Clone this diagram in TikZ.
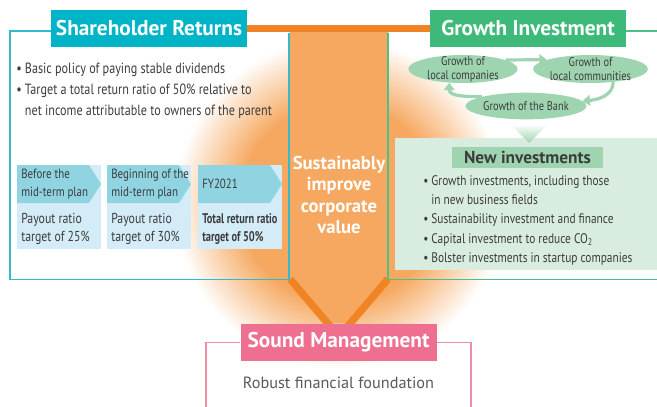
\documentclass[tikz,border=0pt]{standalone}
\usepackage{fontspec}
\setmainfont{PT Sans}
\newfontfamily\condfont[FakeStretch=0.82]{PT Sans}
\newfontfamily\narrowfont[FakeStretch=0.74]{PT Sans}
\usetikzlibrary{positioning,shapes.geometric,arrows.meta,calc}
\definecolor{shcyan}{HTML}{00B4C8}
\definecolor{shline}{HTML}{35BACD}
\definecolor{grgreen}{HTML}{3DB97A}
\definecolor{grline}{HTML}{4DC087}
\definecolor{cycgreen}{HTML}{9ED5B0}
\definecolor{panelgreen}{HTML}{D8EDDF}
\definecolor{stephd}{HTML}{8FD4E0}
\definecolor{stepbd}{HTML}{D4ECF8}
\definecolor{smpink}{HTML}{EF6F91}
\definecolor{smline}{HTML}{F28BA6}
\definecolor{bandorange}{HTML}{F6A860}
\definecolor{vorange}{HTML}{F08424}
\definecolor{textgray}{HTML}{3C3C3C}
\pgfdeclareradialshading{glow}{\pgfpoint{0bp}{0bp}}{color(0bp)=(bandorange); color(15bp)=(bandorange); color(25bp)=(white); color(50bp)=(white)}
\tikzset{
  title/.style={text=white, font=\bfseries\fontsize{16}{18}\selectfont, minimum width=147pt, minimum height=28pt, inner sep=0pt},
  list/.style={align=left, inner sep=0pt, text=textgray},
  stepfont/.style={align=left, inner sep=0pt, text=textgray, font=\condfont\fontsize{10}{13}\selectfont},
  cyc/.style={ellipse, fill=cycgreen, inner xsep=0pt, inner ysep=-4pt, align=center, text=textgray, font=\condfont\fontsize{9.5}{10.5}\selectfont},
  cycarrow/.style={-{Triangle[length=5.5pt,width=8pt]}, line width=2.4pt, draw=cycgreen},
}
\newcommand{\plainbody}{\condfont\fontsize{10.8}{13}\selectfont}
\newcommand{\boldbody}{\narrowfont\bfseries\fontsize{10.5}{13}\selectfont}

\begin{document}
\begin{tikzpicture}[x=0.75pt, y=-0.75pt]
\useasboundingbox (0,0) rectangle (657,407);

% glow and band
\shade[shading=glow] (339,203) circle (165);
\fill[bandorange] (290,31) -- (388,31) -- (388,280) -- (350,323) -- (327,323) -- (290,280) -- cycle;
\draw[vorange, line width=5.5pt] (290,279) -- (330,326);
\draw[vorange, line width=5.5pt] (388,279) -- (348,326);

% titles
\node[title, fill=shcyan] (shTitle) at (149,28.5) {Shareholder Returns};
\node[title, fill=grgreen] (grTitle) at (528,28.5) {Growth Investment};
\node[title, fill=smpink]  (smTitle) at (338.5,342.5) {Sound Management};

% frames
\draw[vorange, line width=5.5pt] (shTitle.east) -- (grTitle.west);
\draw[shline, line width=1.1pt] (shTitle.west |- 0,31) -- (10,31) -- (10,279.5) -- (289,279.5) -- (289,33);
\draw[grline, line width=1.1pt] (grTitle.east |- 0,31) -- (660,31);
\draw[grline, line width=1.1pt] (388,33) -- (388,279.5) -- (660,279.5);
\draw[smline, line width=1.1pt] (smTitle.west) -- (206,342.5) -- (206,410);
\draw[smline, line width=1.1pt] (smTitle.east) -- (471,342.5) -- (471,410);

% shareholder returns
\node[list, anchor=north west, font=\condfont\fontsize{11.1}{15.75}\selectfont] (shList) at (16,63)
  {\textbullet\ Basic policy of paying stable dividends\\
   \textbullet\ Target a total return ratio of 50\% relative to\\
   \hphantom{\textbullet\ }net income attributable to owners of the parent};

\foreach \n/\x/\hd/\bd/\bodyfont in {1/17/{Before the\\mid-term plan}/{Payout ratio\\target of 25\%}/\plainbody,
                                     2/107/{Beginning of the\\mid-term plan}/{Payout ratio\\target of 30\%}/\plainbody,
                                     3/198/{FY2021}/{Total return ratio\\target of 50\%}/\boldbody}{
  \fill[stepbd] (\x,165) rectangle ++(84,84);
  \fill[stephd] (\x,165) -- ++(72,0) -- ++(12,19) -- ++(-12,19) -- ++(-72,0) -- cycle;
  \node[stepfont, anchor=west] (head\n) at (\x+4,184) {\hd};
  \node[stepfont, anchor=west, font=\bodyfont] (body\n) at (\x+4,229) {\bd};
}

% corporate value
\node[align=center, text=white, font=\bfseries\fontsize{14}{16}\selectfont] (value) at (339,195)
  {Sustainably\\improve\\corporate\\value};

% growth cycle
\node[cyc, minimum width=82pt, minimum height=21pt] (gc) at (463,69) {Growth of\\local companies};
\node[cyc, minimum width=82pt, minimum height=21pt] (gm) at (590.5,69) {Growth of\\local communities};
\node[cyc, minimum width=81pt, minimum height=20pt] (gb) at (526,106) {Growth of the Bank};
\draw[cycarrow] (gc.12) -- (gm.168);
\draw[cycarrow] (gm.-30) to[out=-90, in=5] (gb.5);
\draw[cycarrow] (gb.168) to[out=180, in=-90] (gc.-135);

% new investments
\fill[panelgreen] (395,138) rectangle (660,270);
\shade[top color=white, bottom color=cycgreen] (510,124) -- (548,124) -- (529,143) -- cycle;
\node[fill=cycgreen, minimum width=113pt, minimum height=16pt, inner sep=0pt, text=textgray,
      font=\bfseries\fontsize{13}{14}\selectfont] (niHead) at (527.5,157.5) {New investments};
\node[list, anchor=north west, font=\condfont\fontsize{10.4}{14.5}\selectfont] (niList) at (423,175)
  {\textbullet\ Growth investments, including those\\
   \hphantom{\textbullet\ }in new business fields\\
   \textbullet\ Sustainability investment and finance\\
   \textbullet\ Capital investment to reduce CO\textsubscript{2}\\
   \textbullet\ Bolster investments in startup companies};

% sound management
\node[text=textgray!85, font=\fontsize{12.2}{14}\selectfont] (smText) at (338.5,383) {Robust financial foundation};
\end{tikzpicture}
\end{document}
